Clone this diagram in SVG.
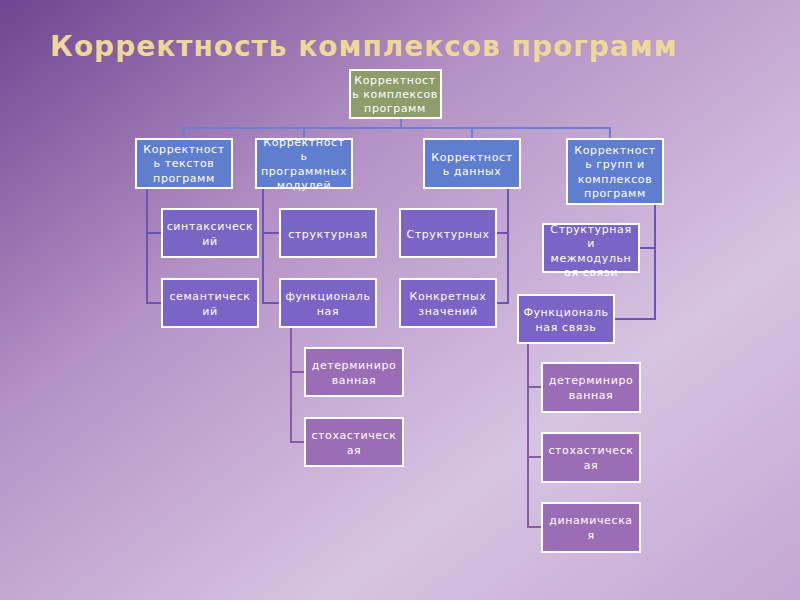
<svg xmlns="http://www.w3.org/2000/svg" width="800" height="600" viewBox="0 0 800 600">
<defs>
<linearGradient id="bg" x1="0" y1="0" x2="1" y2="1">
<stop offset="0" stop-color="#6e4591"/>
<stop offset="0.35" stop-color="#b592c6"/>
<stop offset="0.7" stop-color="#d7c3e2"/>
<stop offset="1" stop-color="#c4a7d4"/>
</linearGradient>
<style>
rect.n{stroke:#fff;stroke-width:2}
.g{fill:#8f9c6b}.b{fill:#5f7ed0}.p{fill:#7a64c6}.q{fill:#9c6db7}
text{font-family:"DejaVu Sans",sans-serif;font-size:11px;fill:#fff;text-anchor:middle;letter-spacing:0.6px}
.c path{fill:none;stroke-width:2}
</style>
</defs>
<rect width="800" height="600" fill="url(#bg)"/>
<text x="50" y="56" style="font-family:'DejaVu Sans',sans-serif;font-size:28px;font-weight:bold;fill:#eed79a;letter-spacing:1px;text-anchor:start">Корректность комплексов программ</text>
<g class="c">
<path stroke="#6d80cf" d="M401 118V128M184 139V128H610V139M304 128V139M472 128V139"/>
<path stroke="#6a55b4" d="M147 188V303H162M147 233H162M263 188V303H280M263 233H280M508 188V303H496M508 233H496M655 204V319H614M655 248H639"/>
<path stroke="#8a5aa8" d="M291 327V442H305M291 372H305M528 343V527H542M528 387H542M528 457H542"/>
</g>
<g id="root"><rect class="n g" x="350" y="70" width="91" height="48"/><text x="395" y="84">Корректност</text><text x="395" y="98">ь комплексов</text><text x="395" y="112">программ</text></g>
<g id="a"><rect class="n b" x="136" y="139" width="96" height="49"/><text x="184" y="153">Корректност</text><text x="184" y="167">ь текстов</text><text x="184" y="182">программ</text></g>
<g id="b"><rect class="n b" x="256" y="139" width="96" height="49"/><text x="304" y="146">Корректност</text><text x="304" y="160">ь</text><text x="304" y="175">программных</text><text x="304" y="189">модулей</text></g>
<g id="c"><rect class="n b" x="424" y="139" width="96" height="49"/><text x="472" y="161">Корректност</text><text x="472" y="175">ь данных</text></g>
<g id="d"><rect class="n b" x="567" y="139" width="96" height="65"/><text x="615" y="154">Корректност</text><text x="615" y="168">ь групп и</text><text x="615" y="183">комплексов</text><text x="615" y="197">программ</text></g>
<g id="a1"><rect class="n p" x="162" y="209" width="96" height="48"/><text x="210" y="230">синтаксическ</text><text x="210" y="245">ий</text></g>
<g id="a2"><rect class="n p" x="162" y="279" width="96" height="48"/><text x="210" y="300">семантическ</text><text x="210" y="315">ий</text></g>
<g id="b1"><rect class="n p" x="280" y="209" width="96" height="48"/><text x="328" y="238">структурная</text></g>
<g id="b2"><rect class="n p" x="280" y="279" width="96" height="48"/><text x="328" y="300">функциональ</text><text x="328" y="315">ная</text></g>
<g id="c1"><rect class="n p" x="400" y="209" width="96" height="48"/><text x="448" y="238">Структурных</text></g>
<g id="c2"><rect class="n p" x="400" y="279" width="96" height="48"/><text x="448" y="300">Конкретных</text><text x="448" y="315">значений</text></g>
<g id="d1"><rect class="n p" x="543" y="224" width="96" height="48"/><text x="591" y="233">Структурная</text><text x="591" y="247">и</text><text x="591" y="262">межмодульн</text><text x="591" y="276">ая связи</text></g>
<g id="d2"><rect class="n p" x="518" y="295" width="96" height="48"/><text x="566" y="316">Функциональ</text><text x="566" y="331">ная связь</text></g>
<g id="b21"><rect class="n q" x="305" y="348" width="98" height="48"/><text x="354" y="369">детерминиро</text><text x="354" y="384">ванная</text></g>
<g id="b22"><rect class="n q" x="305" y="418" width="98" height="48"/><text x="354" y="439">стохастическ</text><text x="354" y="454">ая</text></g>
<g id="d21"><rect class="n q" x="542" y="363" width="98" height="49"/><text x="591" y="384">детерминиро</text><text x="591" y="399">ванная</text></g>
<g id="d22"><rect class="n q" x="542" y="433" width="98" height="49"/><text x="591" y="454">стохастическ</text><text x="591" y="469">ая</text></g>
<g id="d23"><rect class="n q" x="542" y="503" width="98" height="49"/><text x="591" y="524">динамическа</text><text x="591" y="539">я</text></g>
</svg>
